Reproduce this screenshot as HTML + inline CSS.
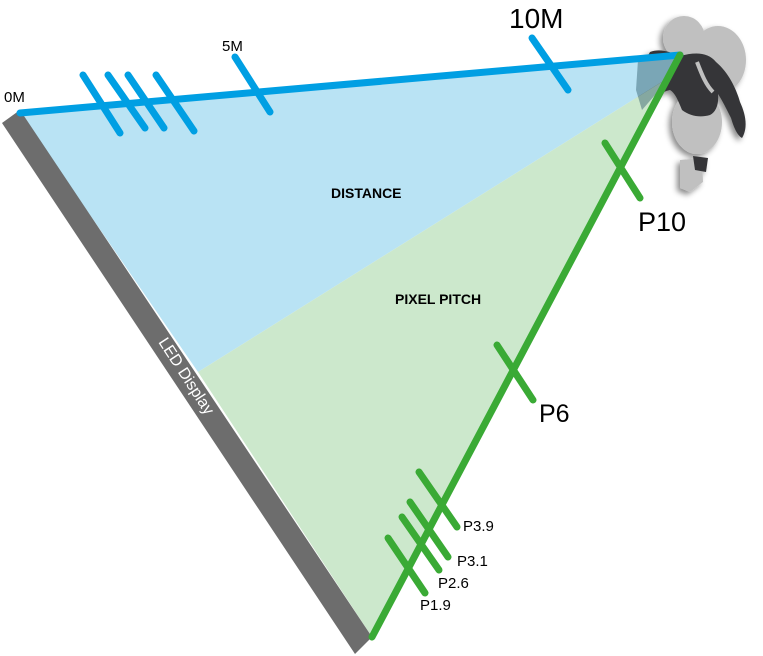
<!DOCTYPE html>
<html><head><style>
html,body{margin:0;padding:0;background:#fff;width:763px;height:656px;overflow:hidden}
svg text{font-family:"Liberation Sans",sans-serif}
</style></head><body>
<svg width="763" height="656" viewBox="0 0 763 656">
<defs><filter id="sh" x="-30%" y="-30%" width="160%" height="160%"><feDropShadow dx="-3" dy="3" stdDeviation="3" flood-opacity="0.45"/></filter></defs>
<!-- person -->
<g filter="url(#sh)">
<ellipse cx="684" cy="38" rx="21" ry="22" fill="#c0c0c0"/>
<ellipse cx="718" cy="60" rx="28" ry="34" fill="#c0c0c0"/>
<ellipse cx="697" cy="122" rx="25" ry="32" fill="#c0c0c0"/>
<path d="M680 160 L702 158 L703 182 L690 192 L680 188 Z" fill="#c0c0c0"/>
<path d="M650 52 C660 48 670 52 680 56 C695 52 708 52 716 62 C728 72 736 88 740 102 C746 115 748 128 742 138 C737 135 734 128 731 118 C726 108 722 100 718 94 C719 104 716 112 710 115 C700 118 690 116 682 110 C678 100 675 93 670 90 C660 92 652 100 646 112 C638 106 637 94 640 84 C642 72 645 60 650 52 Z" fill="#353637"/>
<path d="M693 156 L708 158 L706 172 L695 170 Z" fill="#353637"/>
</g>
<path d="M697 62 C702 75 706 85 713 92" stroke="#c0c0c0" stroke-width="4" fill="none"/>
<!-- fills -->
<polygon points="20,113 680,55 668,78 198,372" fill="#b9e3f4"/>
<polygon points="198,372 668,78 372,637" fill="#cce8cc"/>
<polygon points="638,60 680,55 668,80 642,110 636,90" fill="#2f5a6a" opacity="0.45"/>
<!-- display bar -->
<polygon points="2,123 20,110 372,637 355,654" fill="#6d6d6d"/>
<text transform="translate(158,342) rotate(57)" fill="#fff" font-size="16">LED Display</text>
<!-- blue -->
<g stroke="#009fe3" stroke-width="7" stroke-linecap="round">
<line x1="20" y1="113" x2="680" y2="55"/>
<line x1="83" y1="75" x2="120" y2="133"/>
<line x1="108" y1="75" x2="145" y2="128"/>
<line x1="128" y1="75" x2="164" y2="128"/>
<line x1="156" y1="75" x2="194" y2="131"/>
<line x1="235" y1="57" x2="270" y2="112"/>
<line x1="532" y1="38" x2="568" y2="90"/>
</g>
<!-- green -->
<g stroke="#3aaa35" stroke-width="7" stroke-linecap="round">
<line x1="680" y1="55" x2="372" y2="637"/>
<line x1="605" y1="143" x2="640" y2="198"/>
<line x1="497" y1="345" x2="533" y2="400"/>
<line x1="419" y1="472" x2="457" y2="527"/>
<line x1="410" y1="502" x2="448" y2="557"/>
<line x1="402" y1="517" x2="439" y2="570"/>
<line x1="388" y1="538" x2="425" y2="593"/>
</g>
<g fill="#000">
<text x="4" y="102" font-size="15">0M</text>
<text x="222" y="51" font-size="15">5M</text>
<text x="509" y="28" font-size="28">10M</text>
<text x="638" y="231" font-size="27">P10</text>
<text x="539" y="422" font-size="25">P6</text>
<text x="463" y="531" font-size="15">P3.9</text>
<text x="457" y="566" font-size="15">P3.1</text>
<text x="438" y="588" font-size="15">P2.6</text>
<text x="420" y="610" font-size="15">P1.9</text>
<text x="331" y="198" font-size="14" font-weight="bold">DISTANCE</text>
<text x="395" y="304" font-size="14" font-weight="bold">PIXEL PITCH</text>
</g>
</svg>
</body></html>
